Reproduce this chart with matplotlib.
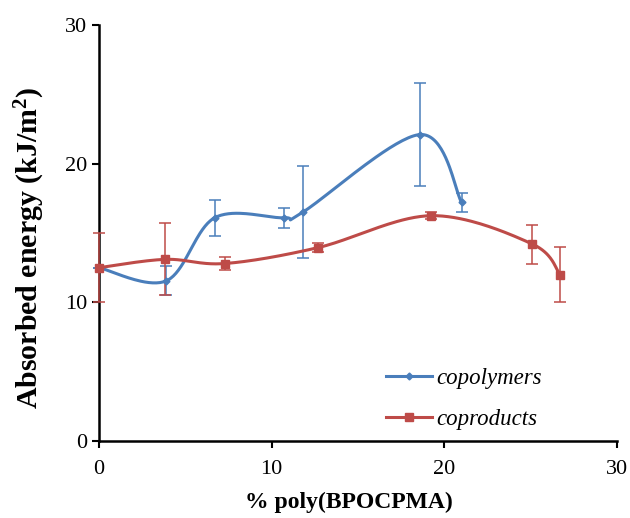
import numpy as np
import matplotlib
matplotlib.use("Agg")
import matplotlib.pyplot as plt
from matplotlib.lines import Line2D

# Data
cop_x = [0.0, 3.9, 6.7, 10.7, 11.8, 18.6, 21.0]
cop_y = [12.5, 11.55, 16.1, 16.1, 16.5, 22.1, 17.2]
cop_err = [0.0, 1.05, 1.3, 0.72, 3.3, 3.7, 0.7]

cpd_x = [0.0, 3.85, 7.3, 12.7, 19.25, 25.1, 26.7]
cpd_y = [12.5, 13.1, 12.8, 13.95, 16.25, 14.2, 12.0]
cpd_err = [2.5, 2.6, 0.5, 0.3, 0.25, 1.4, 2.0]

x_ticks = [0, 10, 20, 30]
y_ticks = [0, 10, 20, 30]

BLUE = "#4A7EBB"
RED = "#BE4B48"

plt.rcParams['font.family'] = ['Liberation Serif', 'DejaVu Serif']
plt.rcParams['mathtext.fontset'] = 'custom'
plt.rcParams['mathtext.rm'] = 'Liberation Serif:bold'
plt.rcParams['mathtext.bf'] = 'Liberation Serif:bold'
plt.rcParams['mathtext.it'] = 'Liberation Serif:italic'


def smooth(xs, ys, n=40):
    # Excel-style smoothed line (Catmull-Rom via cubic Bezier)
    P = np.column_stack([xs, ys]).astype(float)
    out = [P[0]]
    for i in range(len(P) - 1):
        p0 = P[i - 1] if i > 0 else P[i]
        p1 = P[i]
        p2 = P[i + 1]
        p3 = P[i + 2] if i + 2 < len(P) else P[i + 1]
        c1 = p1 + (p2 - p0) / 6.0
        c2 = p2 - (p3 - p1) / 6.0
        t = np.linspace(0, 1, n)[1:, None]
        seg = ((1 - t) ** 3) * p1 + 3 * ((1 - t) ** 2) * t * c1 + 3 * (1 - t) * t ** 2 * c2 + t ** 3 * p2
        out.extend(seg)
    out = np.array(out)
    return out[:, 0], out[:, 1]


fig = plt.figure(figsize=(6.3, 5.18), dpi=100)
ax = fig.add_axes([99 / 630, 1 - 441 / 518, (617 - 99) / 630, (441 - 25) / 518])

for xs, ys, es, col, mk, ms in [(cop_x, cop_y, cop_err, BLUE, 'D', 3.5),
                                (cpd_x, cpd_y, cpd_err, RED, 's', 5.5)]:
    sx, sy = smooth(xs, ys)
    ax.plot(sx, sy, color=col, lw=2.2, solid_capstyle='round', zorder=3)
    eb = ax.errorbar(xs, ys, yerr=es, fmt='none', ecolor=col, elinewidth=1.1,
                     capsize=4.5, capthick=1.1, zorder=2)
    for artist in list(eb.lines[1]) + list(eb.lines[2]):
        artist.set_clip_on(False)
    ax.plot(xs, ys, linestyle='none', marker=mk, color=col, ms=ms, zorder=4,
            clip_on=False)

ax.set_xlim(0, 30)
ax.set_ylim(0, 30)
ax.set_xticks(x_ticks)
ax.set_yticks(y_ticks)
ax.spines['top'].set_visible(False)
ax.spines['right'].set_visible(False)
ax.spines['left'].set_linewidth(1.8)
ax.spines['bottom'].set_linewidth(1.8)
ax.spines['left'].set_zorder(1)
ax.tick_params(axis='both', direction='out', length=5, width=1.5,
               labelsize=16, colors='black')
ax.tick_params(axis='y', pad=3.7)
ax.tick_params(axis='x', pad=9)
ax.set_xlabel('% poly(BPOCPMA)', fontsize=17, fontweight='bold')
ax.xaxis.set_label_coords(0.483, -0.122)
ax.set_ylabel('Absorbed energy (kJ/m$^{\\mathbf{2}}$)', fontsize=21.5, fontweight='bold')
ax.yaxis.set_label_coords(-0.101, 0.465)

handles = [Line2D([], [], color=BLUE, lw=2.2, marker='D', ms=3.5),
           Line2D([], [], color=RED, lw=2.2, marker='s', ms=5.5)]
leg = ax.legend(handles, ['copolymers', 'coproducts'], loc='lower left',
                bbox_to_anchor=(0.514, -0.023), frameon=False,
                prop={'style': 'italic', 'size': 16.5}, handlelength=2.0,
                labelspacing=0.85, handletextpad=0.22)

fig.savefig('out.png', dpi=100)
